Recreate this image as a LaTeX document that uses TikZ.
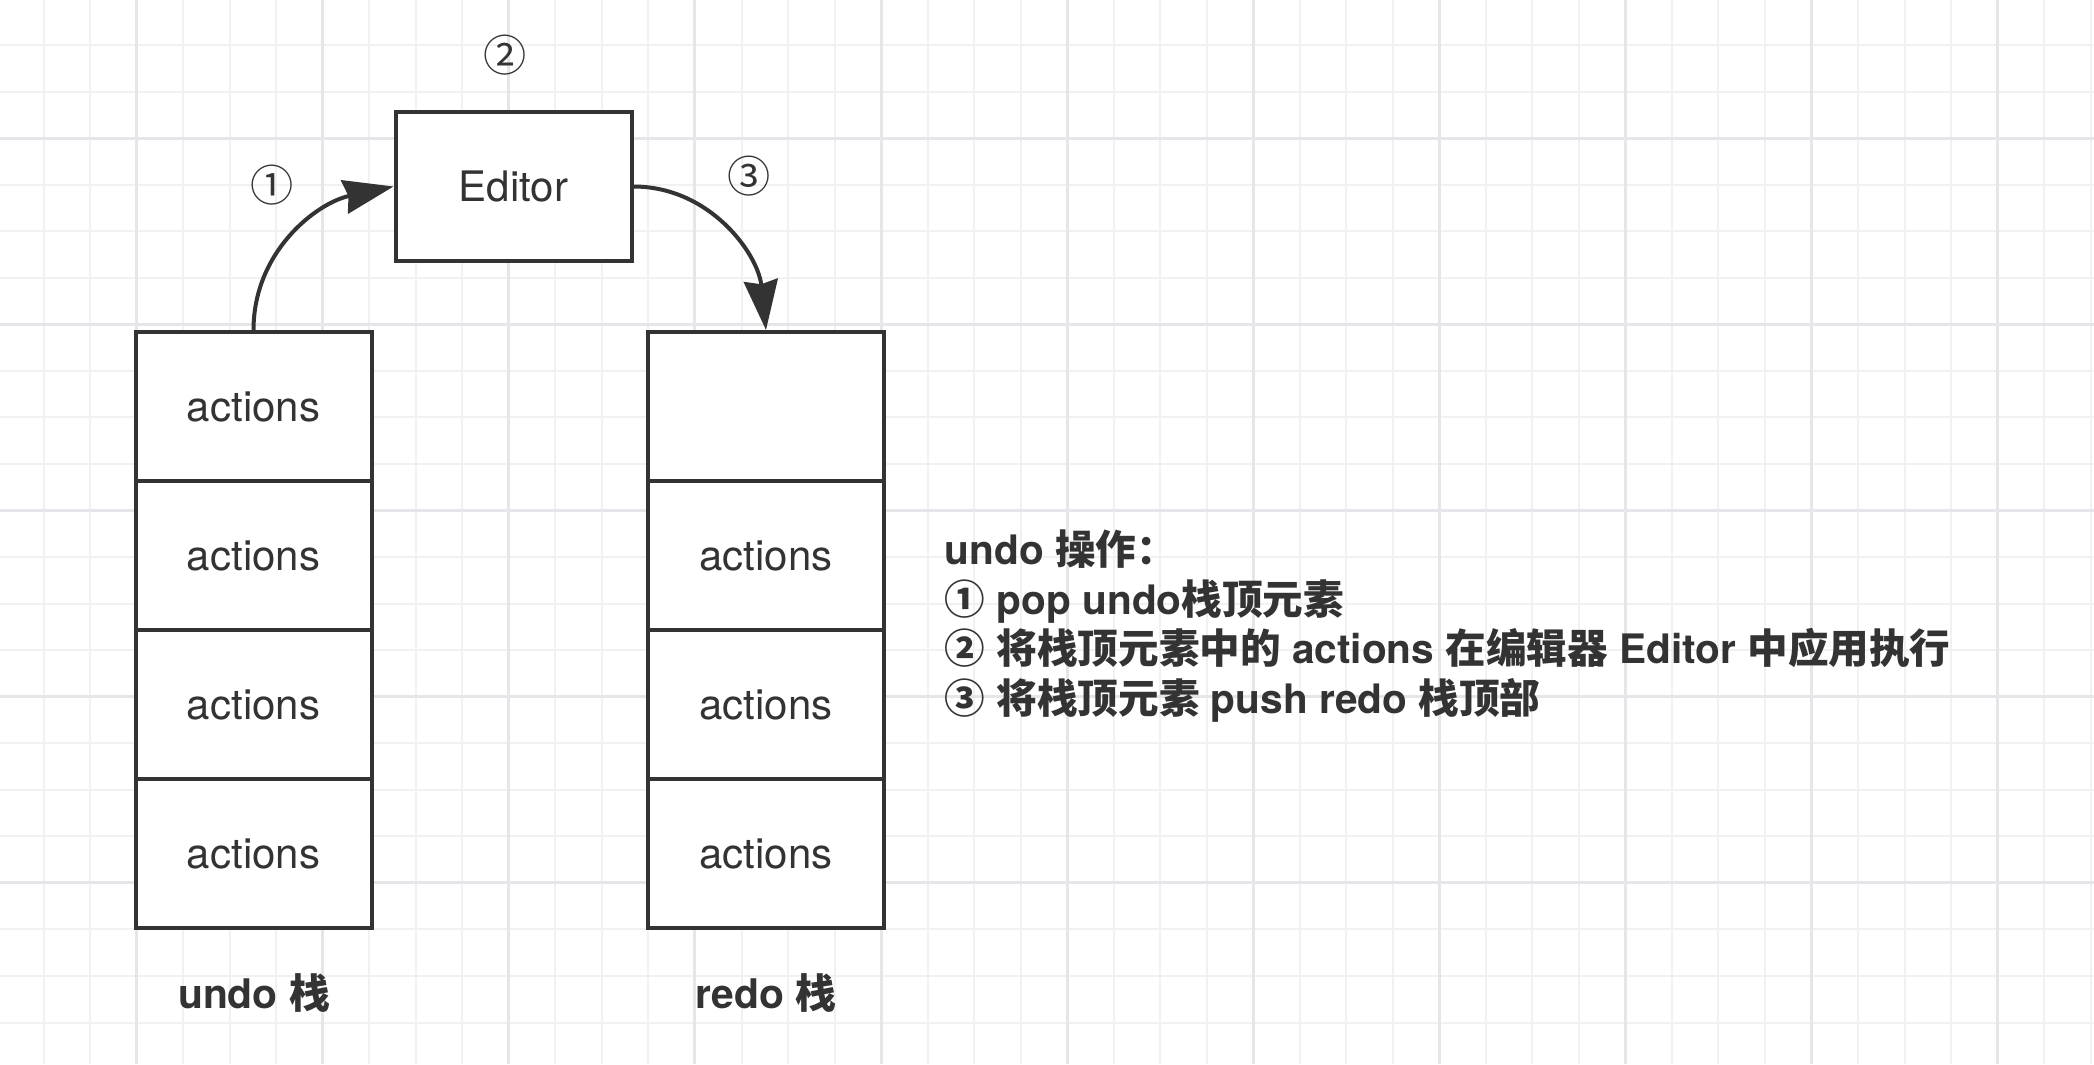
\documentclass[tikz,border=0pt]{standalone}
\usepackage{fontspec}
\setmainfont{TeX Gyre Heros}
\newfontfamily\cjk{Noto Sans CJK SC}
\usepackage{tikz}
\usetikzlibrary{arrows.meta}
\definecolor{ink}{HTML}{333333}
\definecolor{gridminor}{HTML}{F1F1F3}
\definecolor{gridmajor}{HTML}{E6E6EA}
\newcommand{\zhtxt}[1]{{\cjk #1}}
\tikzset{
    minorline/.style={draw=gridminor, line width=0.5pt},
    majorline/.style={draw=gridmajor, line width=0.75pt},
    cell/.style={draw=ink, line width=1pt, fill=white, text=ink, inner sep=0pt,
        minimum width=59pt, minimum height=37.25pt, font=\fontsize{10.5}{12}\selectfont},
    stacklabel/.style={text=ink, font=\fontsize{10.2}{12}\selectfont\bfseries},
    stepno/.style={text=ink, font=\fontsize{10.8}{12}\selectfont\cjk},
    notes/.style={text=ink, align=left, inner sep=0pt, font=\fontsize{10.15}{12.4}\selectfont\bfseries},
    flow/.style={draw=ink, line width=1pt, -{Stealth[length=12.5pt, width=8.5pt, inset=1pt]}},
}
\begin{document}
\begin{tikzpicture}[x=0.25pt, y=0.25pt]
	\fill[white] (0,0) rectangle (2094,-1064);
	\useasboundingbox (0,0) rectangle (2094,-1064);
	% grid
	\foreach \k in {0,...,44}
		\draw[minorline] ({43.7+46.52*\k},0) -- ({43.7+46.52*\k},-1064);
	\foreach \k in {0,...,21}
		\draw[minorline] (0,{-45-46.55*\k}) -- (2094,{-45-46.55*\k});
	\foreach \k in {2,6,...,42}
		\draw[majorline] ({43.7+46.52*\k},0) -- ({43.7+46.52*\k},-1064);
	\foreach \k in {2,6,...,18}
		\draw[majorline] (0,{-45-46.55*\k}) -- (2094,{-45-46.55*\k});
	% stacks
	\foreach \i/\y in {1/406.5, 2/555.5, 3/704.5, 4/853.5}
		\node[cell] (u\i) at (253.5,-\y) {actions};
	\node[cell] (r1) at (766,-406.5) {};
	\foreach \i/\y in {2/555.5, 3/704.5, 4/853.5}
		\node[cell] (r\i) at (766,-\y) {actions};
	\node[stacklabel] (undolabel) at (254,-993) {undo \zhtxt{栈}};
	\node[stacklabel] (redolabel) at (766,-993) {redo \zhtxt{栈}};
	% editor
	\node[cell] (editor) at (513.5,-186.5) {Editor};
	\node[stepno] (n1) at (272,-185) {①};
	\node[stepno] (n2) at (505,-55) {②};
	\node[stepno] (n3) at (749,-176) {③};
	\draw[flow] (u1.north) to[out=90, in=192] (editor.west);
	\draw[flow] (editor.east) to[out=0, in=96] (r1.north);
	\node[notes, anchor=west] (steps) at (944,-626) {undo \zhtxt{操作：}\\
		\zhtxt{①} pop undo\zhtxt{栈顶元素}\\
		\zhtxt{②} \zhtxt{将栈顶元素中的} actions \zhtxt{在编辑器} Editor \zhtxt{中应用执行}\\
		\zhtxt{③} \zhtxt{将栈顶元素} push redo \zhtxt{栈顶部}};
\end{tikzpicture}
\end{document}
